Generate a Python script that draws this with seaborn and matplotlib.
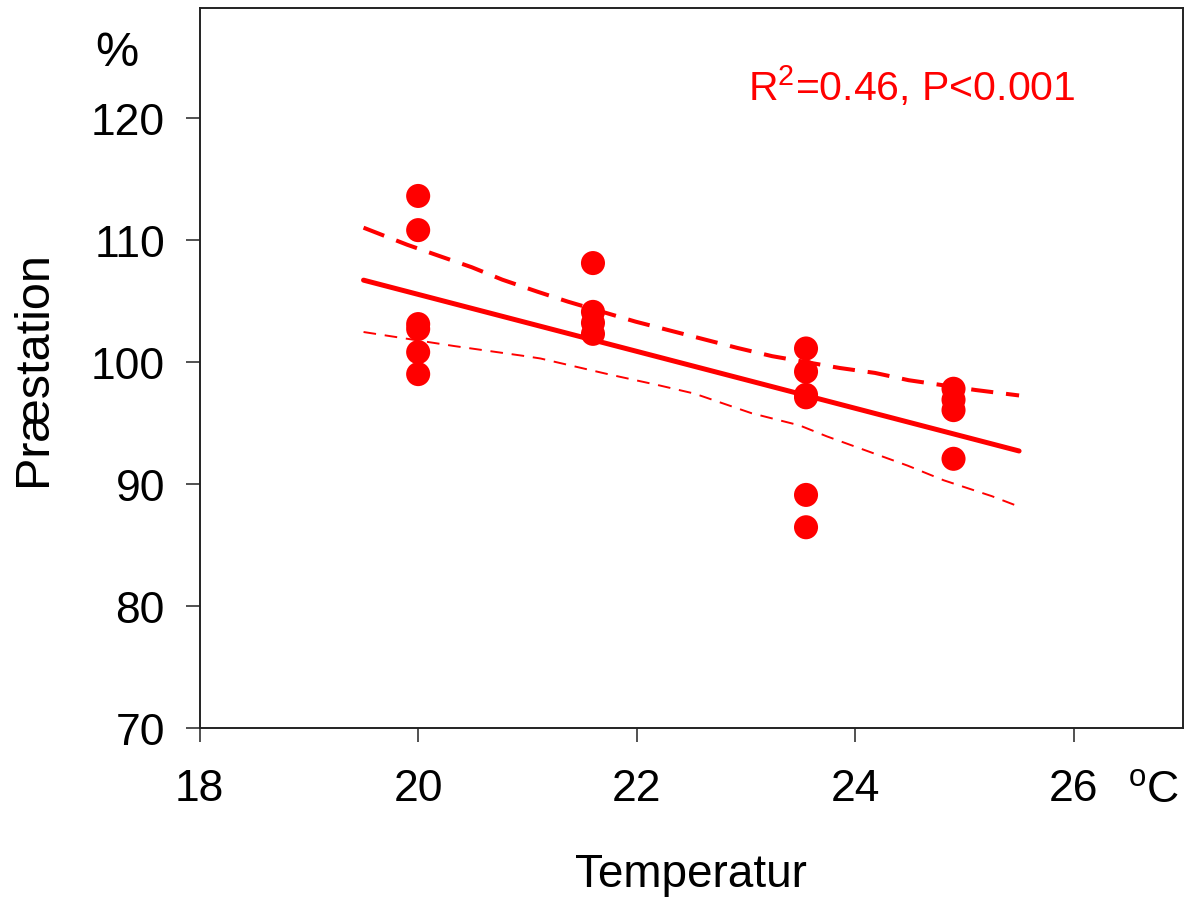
import numpy as np
import pandas as pd
import matplotlib
matplotlib.use('Agg')
import matplotlib.pyplot as plt
import seaborn as sns

# measured points (temperature in degC, performance in %)
temperature = [20, 20, 20, 20, 20, 20,
               21.6, 21.6, 21.6, 21.6,
               23.55, 23.55, 23.55, 23.55, 23.55, 23.55,
               24.9, 24.9, 24.9, 24.9]
performance = [113.6, 110.8, 103.1, 102.7, 100.8, 99.0,
               108.1, 104.1, 103.2, 102.3,
               101.1, 99.2, 97.3, 97.1, 89.1, 86.45,
               97.8, 96.9, 96.05, 92.06]

# regression line
fit_x = [19.5, 25.5]
fit_y = [106.7, 92.7]

# upper confidence line
upper_x = [19.5, 19.9, 20.2, 20.49, 20.77, 21.09, 21.37, 21.99, 22.92, 23.24,
           23.86, 24.18, 24.49, 25.1, 25.5]
upper_y = [111.0, 109.6, 108.66, 107.76, 106.74, 105.76, 104.94, 103.3, 101.15,
           100.47, 99.5, 99.1, 98.5, 97.7, 97.25]

# lower confidence line
lower_x = [19.5, 20.33, 20.96, 21.12, 21.75, 22.21, 22.53, 23.05, 23.49, 23.74,
           24.48, 24.81, 25.25, 25.5]
lower_y = [102.45, 101.3, 100.5, 100.28, 98.97, 98.07, 97.4, 95.8, 94.8, 93.9,
           91.5, 90.3, 89.0, 88.14]

xticks = [18, 20, 22, 24, 26]
yticks = [70, 80, 90, 100, 110, 120]

sns.set_style('white')
plt.rcParams['font.family'] = ['Liberation Sans', 'DejaVu Sans']
plt.rcParams['mathtext.fontset'] = 'custom'
plt.rcParams['mathtext.rm'] = 'Liberation Sans'
plt.rcParams['mathtext.it'] = 'Liberation Sans'
plt.rcParams['text.color'] = 'black'
plt.rcParams['axes.labelcolor'] = 'black'
plt.rcParams['xtick.color'] = 'black'
plt.rcParams['ytick.color'] = 'black'

red = '#ff0000'

fig = plt.figure(figsize=(11.87, 9.04), dpi=100)
ax = fig.add_axes([0.1682, 0.1936, 0.8284, 0.7964])

df = pd.DataFrame({'temp': temperature, 'perf': performance})
sns.lineplot(x=fit_x, y=fit_y, ax=ax, color=red, lw=3.6)
sns.lineplot(x=upper_x, y=upper_y, ax=ax, color=red, lw=2.9,
             linestyle=(0, (5.5, 3.2)))
sns.lineplot(x=lower_x, y=lower_y, ax=ax, color=red, lw=1.4,
             linestyle=(0, (6.5, 4.5)))
sns.scatterplot(data=df, x='temp', y='perf', ax=ax, color=red, s=300,
                edgecolor='none', zorder=5)

ax.set_xlim(18, 27)
ax.set_ylim(70, 129)
ax.set_xticks(xticks)
ax.set_yticks(yticks)
ax.tick_params(axis='both', direction='out', length=10, width=1.1,
               color='#222222', labelsize=32, bottom=True, left=True)
ax.tick_params(axis='x', pad=19)
ax.tick_params(axis='y', pad=15)
for sp in ax.spines.values():
    sp.set_color('#222222')
    sp.set_linewidth(1.4)

ax.set_xlabel('Temperatur', fontsize=33)
ax.xaxis.set_label_coords(0.5, -0.172)
ax.set_ylabel('Præstation', fontsize=35)
ax.yaxis.set_label_coords(-0.146, 0.5)

fig.text(117 / 1187, 1 - 66 / 904, '%', fontsize=35, ha='center', va='baseline')
fig.text(1128 / 1187, 1 - 803 / 904, r'$^{\mathrm{o}}$C', fontsize=32,
         ha='left', va='baseline')
fig.text(748 / 1187, 1 - 101 / 904, r'R$^{2}$=0.46, P<0.001', fontsize=29.5,
         color=red, ha='left', va='baseline')

fig.savefig('out.png', dpi=100)
